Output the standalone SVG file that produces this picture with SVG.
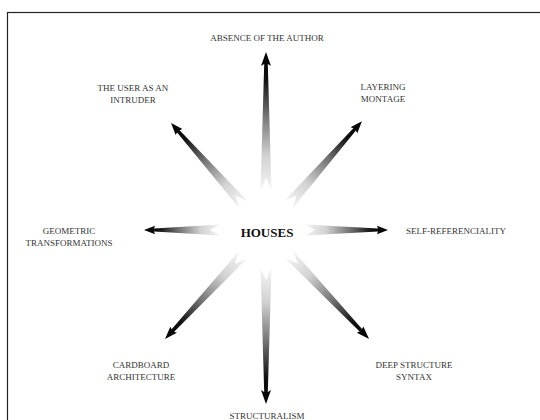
<svg xmlns="http://www.w3.org/2000/svg" width="540" height="420" viewBox="0 0 540 420">
  <style>
    .lbl { font-family: "Liberation Serif", "Times New Roman", serif; font-size: 9px; fill: #333; text-anchor: middle; }
    .hub { font-family: "Liberation Serif", "Times New Roman", serif; font-size: 13px; font-weight: bold; fill: #111; text-anchor: middle; }
    .arrow { fill: url(#fade); }
  </style>
  <defs>
    <linearGradient id="fade" x1="0" y1="0" x2="1" y2="0">
      <stop offset="0" stop-color="#f4f4f4"/>
      <stop offset="0.25" stop-color="#d2d2d2"/>
      <stop offset="0.55" stop-color="#707070"/>
      <stop offset="0.8" stop-color="#111"/>
      <stop offset="1" stop-color="#000"/>
    </linearGradient>
  </defs>
  <rect x="7.5" y="12.5" width="545" height="420" fill="#fff" stroke="#222" stroke-width="1.2"/>

  <g id="connectors">
    <!-- up -->
    <path class="arrow" transform="translate(266,230) rotate(-90)" d="M40,-5.5 L166,-1.8 L164,-5 L178,0 L164,5 L166,1.8 L40,5.5 L52,0 Z"/>
    <!-- down -->
    <path class="arrow" transform="translate(266,230) rotate(90)" d="M38,-5.5 L162,-1.8 L160,-5 L174,0 L160,5 L162,1.8 L38,5.5 L50,0 Z"/>
    <!-- left -->
    <path class="arrow" transform="translate(266,230) rotate(180)" d="M46,-5.5 L112,-1.6 L111,-4.2 L122,0 L111,4.2 L112,1.6 L46,5.5 L56,0 Z"/>
    <!-- right -->
    <path class="arrow" transform="translate(266,230)" d="M39,-5.5 L112,-1.6 L111,-4.2 L122,0 L111,4.2 L112,1.6 L39,5.5 L49,0 Z"/>
    <!-- upper-left -->
    <path class="arrow" transform="translate(266,230) rotate(-131.6)" d="M34,-5.5 L132,-1.7 L131,-4.5 L143,0 L131,4.5 L132,1.7 L34,5.5 L46,0 Z"/>
    <!-- upper-right -->
    <path class="arrow" transform="translate(266,230) rotate(-48.6)" d="M34,-5.5 L134,-1.7 L133,-4.5 L145,0 L133,4.5 L134,1.7 L34,5.5 L46,0 Z"/>
    <!-- lower-left -->
    <path class="arrow" transform="translate(266,230) rotate(132.8)" d="M34,-5.5 L137,-1.7 L136,-4.5 L148.6,0 L136,4.5 L137,1.7 L34,5.5 L46,0 Z"/>
    <!-- lower-right -->
    <path class="arrow" transform="translate(266,230) rotate(46.6)" d="M34,-5.5 L138,-1.7 L137,-4.5 L150,0 L137,4.5 L138,1.7 L34,5.5 L46,0 Z"/>
  </g>

  <g id="houses"><text class="hub" x="267" y="237">HOUSES</text></g>
  <g id="absence-of-the-author"><text class="lbl" x="267" y="41">ABSENCE OF THE AUTHOR</text></g>
  <g id="user-as-intruder"><text class="lbl" x="133" y="91">THE USER AS AN</text><text class="lbl" x="133" y="103">INTRUDER</text></g>
  <g id="layering-montage"><text class="lbl" x="383" y="90">LAYERING</text><text class="lbl" x="383" y="102">MONTAGE</text></g>
  <g id="geometric-transformations"><text class="lbl" x="69" y="234">GEOMETRIC</text><text class="lbl" x="69" y="246">TRANSFORMATIONS</text></g>
  <g id="self-referenciality"><text class="lbl" x="456" y="234">SELF-REFERENCIALITY</text></g>
  <g id="cardboard-architecture"><text class="lbl" x="141" y="368">CARDBOARD</text><text class="lbl" x="141" y="380">ARCHITECTURE</text></g>
  <g id="deep-structure-syntax"><text class="lbl" x="414" y="368">DEEP STRUCTURE</text><text class="lbl" x="414" y="380">SYNTAX</text></g>
  <g id="structuralism"><text class="lbl" x="267" y="419">STRUCTURALISM</text></g>
</svg>
